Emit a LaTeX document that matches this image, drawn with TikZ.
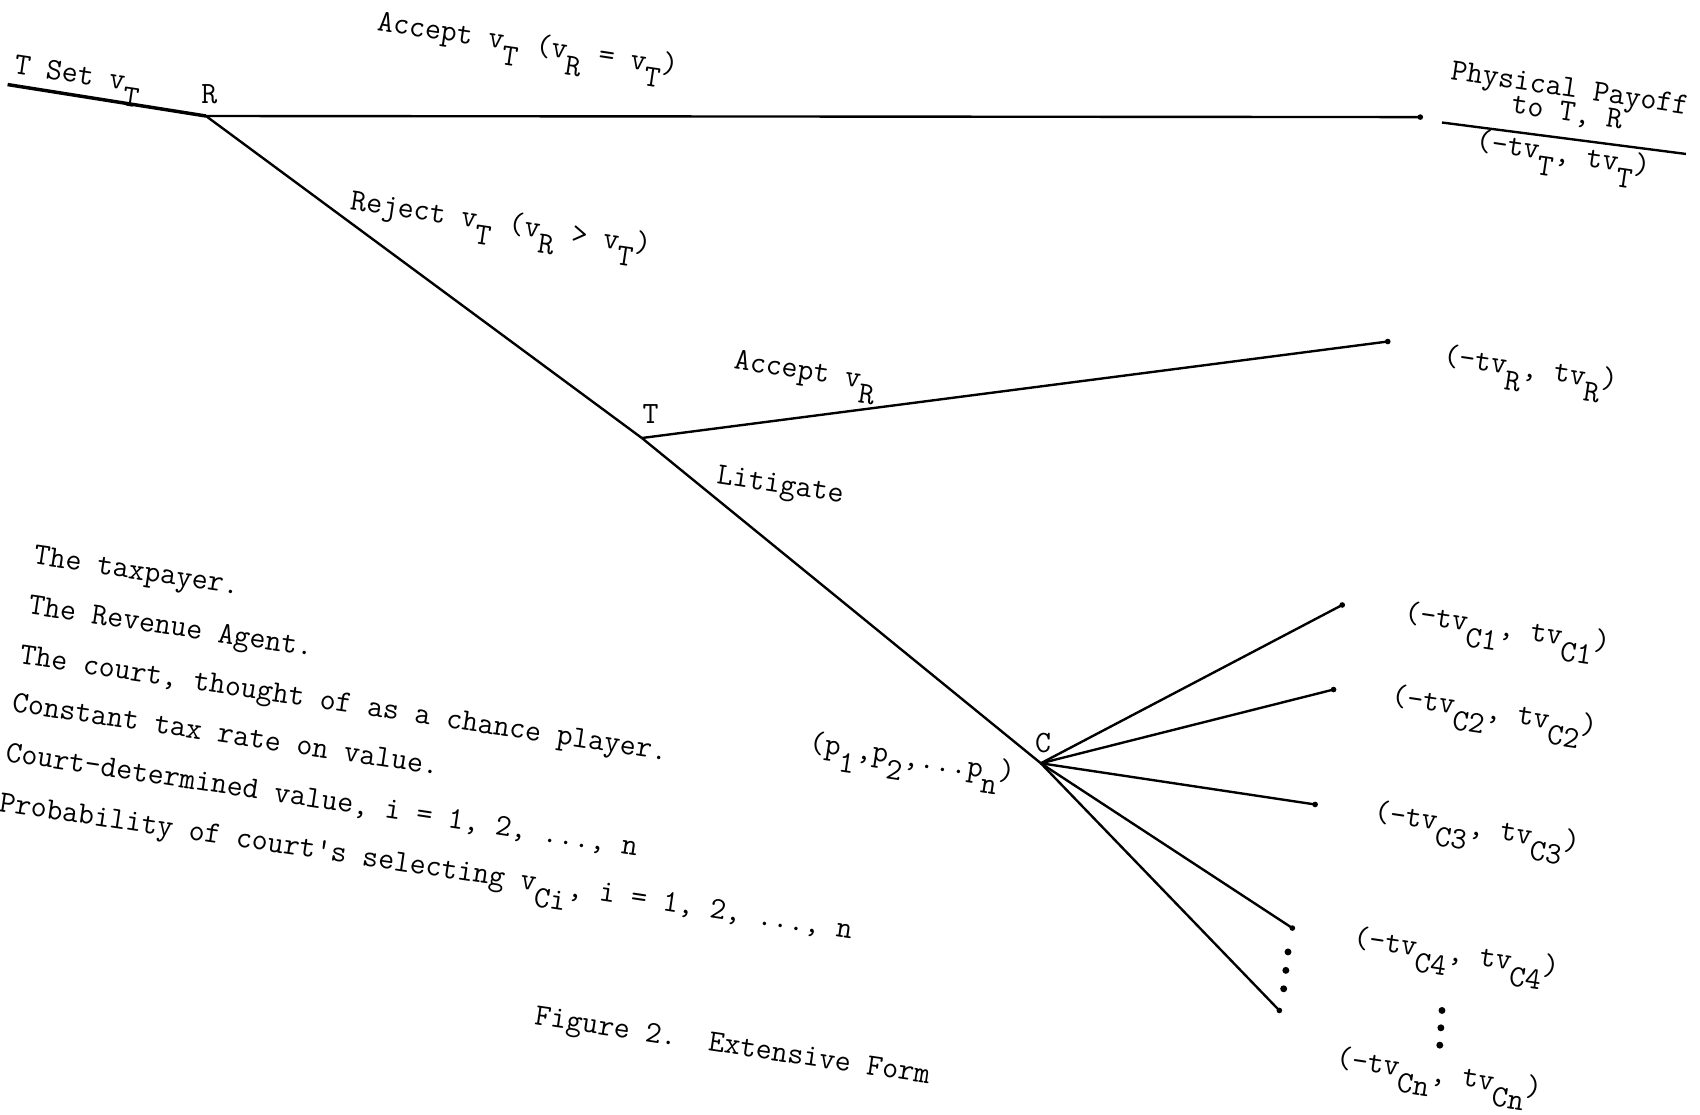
\documentclass[tikz,border=0pt]{standalone}
\newcommand\dn[1]{\raisebox{-0.5em}{#1}}
\begin{document}
\begin{tikzpicture}[x=0.5pt,y=-0.5pt,
  txt/.style={font=\ttfamily\fontsize{14.3}{16}\selectfont, anchor=base west, rotate=-8.5, inner sep=0pt},
  lbl/.style={font=\ttfamily\fontsize{14.3}{16}\selectfont, inner sep=0pt},
  edge/.style={line width=1.1pt},
  tip/.style={fill, circle, inner sep=0pt, minimum size=2.6pt},
  dot/.style={fill, circle, inner sep=0pt, minimum size=3.2pt}]
\useasboundingbox (0,0) rectangle (1568,1028);
% tree nodes
\coordinate (S) at (7,78);
\coordinate (R) at (190,107);
\coordinate (T) at (592,404);
\coordinate (C) at (960,704);
\node[tip] (a1) at (1310,108) {};
\node[tip] (a2) at (1280,315) {};
\node[tip] (c1) at (1238,558) {};
\node[tip] (c2) at (1230,636) {};
\node[tip] (c3) at (1213,742) {};
\node[tip] (c4) at (1192,856) {};
\node[tip] (cn) at (1180,932) {};
% edges
\draw[line width=1.6pt] (S) -- (R);
\draw[edge] (R) -- (a1.center);
\draw[edge] (R) -- (T);
\draw[edge] (T) -- (a2.center);
\draw[edge] (T) -- (C);
\foreach \e in {c1,c2,c3,c4,cn} \draw[edge] (C) -- (\e.center);
% vertical dots between branches
\node[dot] (d1) at (1188,878) {};
\node[dot] (d2) at (1186,895) {};
\node[dot] (d3) at (1184,912) {};
% payoff dots
\node[dot] (d4) at (1330,932) {};
\node[dot] (d5) at (1329,948) {};
\node[dot] (d6) at (1328,964) {};
% node labels
\node[lbl] (lR) at (193,87) {R};
\node[lbl] (lT) at (600,382) {T};
\node[lbl] (lC) at (962,685) {C};
% branch labels
\node[txt] (l1) at (12,68) {T Set v\dn{T}};
\node[txt] (l2) at (347,28) {Accept v\dn{T} (v\dn{R} = v\dn{T})};
\node[txt] (l3) at (322,193) {Reject v\dn{T} (v\dn{R} > v\dn{T})};
\node[txt] (l4) at (676,340) {Accept v\dn{R}};
\node[txt] (l5) at (660,446) {Litigate};
\node[txt] (l6) at (745,693) {(p\dn{1},p\dn{2},...p\dn{n})};
% payoffs
\node[txt] (h1) at (1337,73) {Physical Payoff};
\node[txt] (h2) at (1393,104) {to T, R};
\coordinate (hl1) at (1330,113);
\coordinate (hl2) at (1555,142);
\draw[edge] (hl1) -- (hl2);
\node[txt] (p1) at (1360,138) {(-tv\dn{T}, tv\dn{T})};
\node[txt] (p2) at (1330,336) {(-tv\dn{R}, tv\dn{R})};
\node[txt] (p3) at (1294,573) {(-tv\dn{C1}, tv\dn{C1})};
\node[txt] (p4) at (1282,650) {(-tv\dn{C2}, tv\dn{C2})};
\node[txt] (p5) at (1266,757) {(-tv\dn{C3}, tv\dn{C3})};
\node[txt] (p6) at (1247,873) {(-tv\dn{C4}, tv\dn{C4})};
\node[txt] (p7) at (1231,984) {(-tv\dn{Cn}, tv\dn{Cn})};
% legend
\node[txt] (k1) at (30,520) {The taxpayer.};
\node[txt] (k2) at (25,566) {The Revenue Agent.};
\node[txt] (k3) at (17,612) {The court, thought of as a chance player.};
\node[txt] (k4) at (10,656) {Constant tax rate on value.};
\node[txt] (k5) at (4,702) {Court-determined value, i = 1, 2, ..., n};
\node[txt] (k6) at (-2,748) {Probability of court's selecting v\dn{Ci}, i = 1, 2, ..., n};
\node[txt] (cap) at (492,945) {Figure~2.~~Extensive Form};
\end{tikzpicture}
\end{document}
